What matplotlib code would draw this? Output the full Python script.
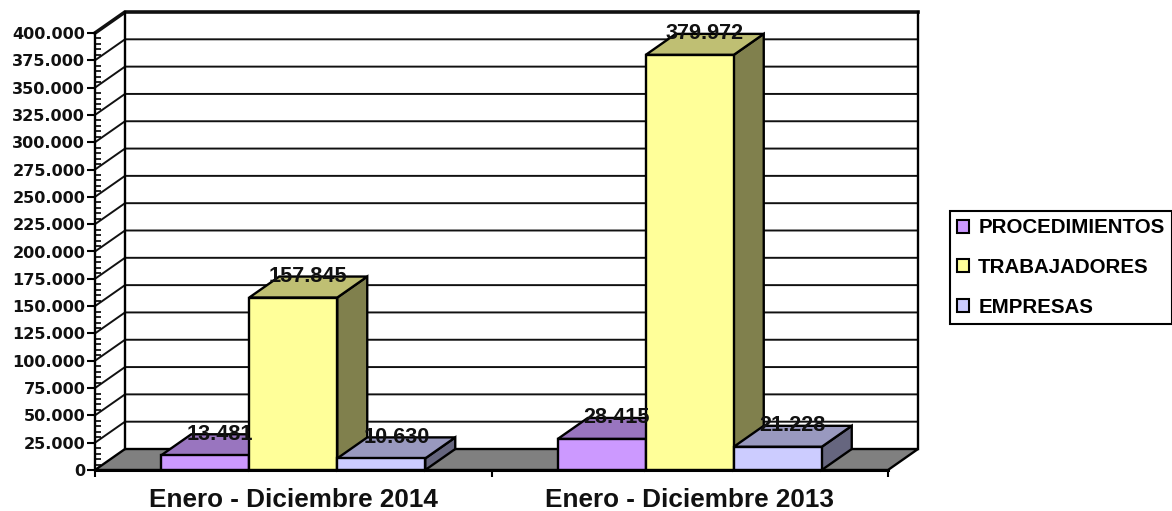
import matplotlib
matplotlib.use("Agg")
import numpy as np
import matplotlib.pyplot as plt
from matplotlib.patches import Polygon, Patch

# Datos
periodos = ["Enero - Diciembre 2014", "Enero - Diciembre 2013"]
series = ["PROCEDIMIENTOS", "TRABAJADORES", "EMPRESAS"]
procedimientos = [13481, 28415]
trabajadores = [157845, 379972]
empresas = [10630, 21228]
etiquetas_2014 = ["13.481", "157.845", "10.630"]
etiquetas_2013 = ["28.415", "379.972", "21.228"]
marcas_y = np.arange(0, 400001, 25000)

colores = ["#CC99FF", "#FFFF99", "#CCCCFF"]
colores_top = ["#9975BF", "#BFBF73", "#9999BF"]
colores_lado = ["#664C80", "#80804D", "#66667F"]

W, H = 1172, 511
fig = plt.figure(figsize=(W / 100, H / 100), dpi=100)
ax = fig.add_axes([95 / W, (H - 470) / H, 793 / W, 437 / H])
ax.set_xlim(0, 2)
ax.set_ylim(0, 400000)

# profundidad del efecto 3D en unidades de datos
dx = 30 / 396.5
dy = 21 / 437 * 400000
ancho = 88 / 396.5
lw = 1.7

# suelo y lineas de la pared
ax.add_patch(Polygon([(0, 0), (dx, dy), (2 + dx, dy), (2, 0)], facecolor="#808080",
                     edgecolor="black", lw=lw, clip_on=False, zorder=1))
for m in marcas_y[1:]:
    grosor = 2.6 if m == marcas_y[-1] else 1.4
    ax.plot([0, dx, 2 + dx], [m, m + dy, m + dy], color="#111111", lw=grosor,
            clip_on=False, zorder=1, solid_joinstyle="miter")
ax.plot([dx, dx], [dy, 400000 + dy], color="black", lw=lw, clip_on=False, zorder=1)
ax.plot([2 + dx, 2 + dx], [dy, 400000 + dy], color="black", lw=lw, clip_on=False, zorder=1)

# barras, de izquierda a derecha para que se tapen bien
valores = [procedimientos, trabajadores, empresas]
etiquetas = [etiquetas_2014, etiquetas_2013]
z = 2
for g in range(2):
    for i in range(3):
        v = valores[i][g]
        x0 = g + 0.5 + (i - 1.5) * ancho
        x1 = x0 + ancho
        ax.add_patch(Polygon([(x1, 0), (x1 + dx, dy), (x1 + dx, v + dy), (x1, v)],
                             facecolor=colores_lado[i], edgecolor="black", lw=lw,
                             clip_on=False, zorder=z))
        ax.add_patch(Polygon([(x0, v), (x0 + dx, v + dy), (x1 + dx, v + dy), (x1, v)],
                             facecolor=colores_top[i], edgecolor="black", lw=lw,
                             clip_on=False, zorder=z))
        ax.bar(x0, v, width=ancho, align="edge", color=colores[i], edgecolor="black",
               lw=lw, clip_on=False, zorder=z)
        ax.text(x0 + ancho / 2 + dx / 2, v + dy, etiquetas[g][i], ha="center",
                va="center", fontsize=15.6, fontweight="bold",
                family="Liberation Sans", color="#111111", zorder=20, clip_on=False)
        z += 1

# ejes
for s in ["top", "right", "bottom"]:
    ax.spines[s].set_visible(False)
ax.spines["left"].set_linewidth(lw)
ax.spines["left"].set_zorder(15)
ax.plot([0, 2], [0, 0], color="black", lw=2.2, clip_on=False, zorder=15)

ax.set_yticks(marcas_y)
ax.set_yticklabels([f"{m:,}".replace(",", ".") for m in marcas_y], fontsize=11.6,
                   fontweight="bold", family="DejaVu Sans", color="#111111")
ax.tick_params(axis="y", which="major", length=6, width=1.5, pad=1)
ax.set_yticks(np.arange(0, 400001, 5000), minor=True)
ax.tick_params(axis="y", which="minor", direction="in", length=4, width=1.2)

ax.set_xticks([0.5, 1.5])
ax.set_xticklabels(periodos, fontsize=18.8, fontweight="bold", family="Liberation Sans",
                   color="#111111")
ax.tick_params(axis="x", which="major", length=0, pad=13)
ax.set_xticks([0, 1, 2], minor=True)
ax.tick_params(axis="x", which="minor", length=5, width=1.5)

# leyenda
handles = [Patch(facecolor=c, edgecolor="black", lw=1.5, label=s) for c, s in zip(colores, series)]
fig.legend(handles=handles, loc="upper left", bbox_to_anchor=(950 / W, 1 - 211 / H),
           borderaxespad=0, fancybox=False, framealpha=1, edgecolor="black",
           prop={"family": "Liberation Sans", "weight": "bold", "size": 14.8},
           handlelength=0.58, handleheight=0.58, handletextpad=0.43, labelspacing=1.0,
           borderpad=0.36).get_frame().set_linewidth(1.5)

plt.savefig("out.png", dpi=100)
